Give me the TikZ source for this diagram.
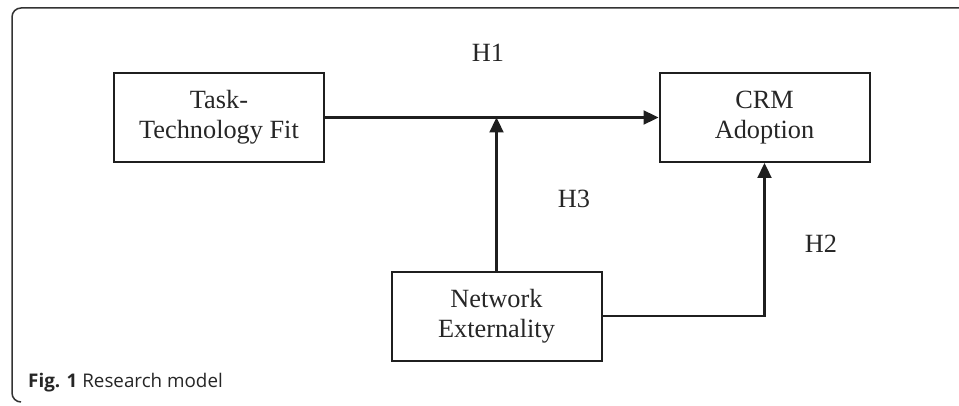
\documentclass[tikz,border=0pt]{standalone}
\usepackage{fontspec}
\setmainfont{Liberation Serif}
\newfontfamily\capfont{Open Sans}
\usetikzlibrary{arrows.meta}
\begin{document}
\begin{tikzpicture}[x=1pt,y=1pt,
  box/.style={draw=black!88,line width=2pt,minimum width=210pt,minimum height=89pt,align=center,inner sep=0pt,
    font=\fontsize{26.3}{30}\selectfont,text=black!85},
  conn/.style={draw=black!88,line width=2.3pt,-{Triangle[length=15pt,width=14pt]}},
  hlab/.style={font=\fontsize{26.3}{30}\selectfont,text=black!85,inner sep=0pt}]
\useasboundingbox (0,0) rectangle (959,405);
% frame
\draw[black!80,line width=1.5pt] (959,397) -- (21,397) arc[start angle=90,end angle=180,radius=9] -- (12,12) arc[start angle=180,end angle=270,radius=9];
% nodes
\node[box] (ttf) at (219,287.5) {Task-\\Technology Fit};
\node[box] (crm) at (764.5,287.5) {CRM\\Adoption};
\node[box] (ne) at (496.5,89) {Network\\Externality};
\coordinate (m) at (ne.north |- ttf.east);
\coordinate (c) at (crm.south |- ne.east);
\draw[conn] (ttf.east) -- (crm.west);
\draw[conn] (ne.north) -- (m);
\draw[conn] (ne.east) -- (c) -- (crm.south);
\node[hlab] (h1) at (488,352) {H1};
\node[hlab] (h3) at (574,206) {H3};
\node[hlab] (h2) at (821,161) {H2};
\node[anchor=west,inner sep=0pt,font=\capfont\fontsize{18.8}{22}\selectfont,text=black!85] (cap) at (28,22) {\textbf{Fig. 1} Research model};
\end{tikzpicture}
\end{document}
